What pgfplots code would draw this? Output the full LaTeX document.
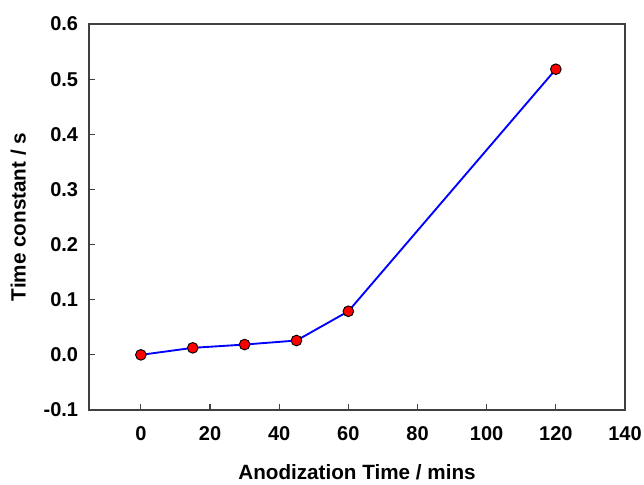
\documentclass[border=0pt]{standalone}
\usepackage{fontspec}
\setmainfont{Liberation Sans}
\usepackage{pgfplots}
\pgfplotsset{compat=1.18}
\begin{document}
\begin{tikzpicture}
\begin{axis}[
  name=ax,
  scale only axis,
  width=402pt, height=289.5pt,
  xmin=-15, xmax=140,
  ymin=-0.1, ymax=0.6,
  xtick={0,20,40,60,80,100,120,140},
  ytick={-0.1,0,0.1,0.2,0.3,0.4,0.5,0.6},
  tick pos=left,
  tick align=inside,
  major tick length=4.5pt,
  axis line style={draw=black!75, line width=1pt},
  every tick/.style={draw=black!75, line width=0.9pt},
  /pgf/number format/assume math mode=true,
  ticklabel style={font=\bfseries\fontsize{15}{18}\selectfont, inner sep=0pt},
  yticklabel style={xshift=-8pt, /pgf/number format/.cd, fixed, fixed zerofill, precision=1},
  xticklabel style={yshift=-12pt},
  xlabel={Anodization Time / mins},
  ylabel={Time constant / s},
  every axis x label/.style={at={(axis description cs:0.5,0)}, anchor=center,
    yshift=-47pt, font=\bfseries\fontsize{15.5}{18}\selectfont},
  every axis y label/.style={at={(axis description cs:0,0.5)}, anchor=center,
    xshift=-53pt, rotate=90, font=\bfseries\fontsize{15.5}{18}\selectfont},
  clip=false,
]
\addplot[blue, line width=1.4pt, mark=*, mark size=4pt,
  mark options={fill=red, draw=black, line width=0.7pt}]
  coordinates {
    (0,0.000)
    (15,0.0127)
    (30,0.0187)
    (45,0.026)
    (60,0.079)
    (120,0.518)
  };
\end{axis}
\path ([shift={(-66.75pt,-52.5pt)}]ax.south west) rectangle ([shift={(14.25pt,18pt)}]ax.north east);
\end{tikzpicture}
\end{document}
